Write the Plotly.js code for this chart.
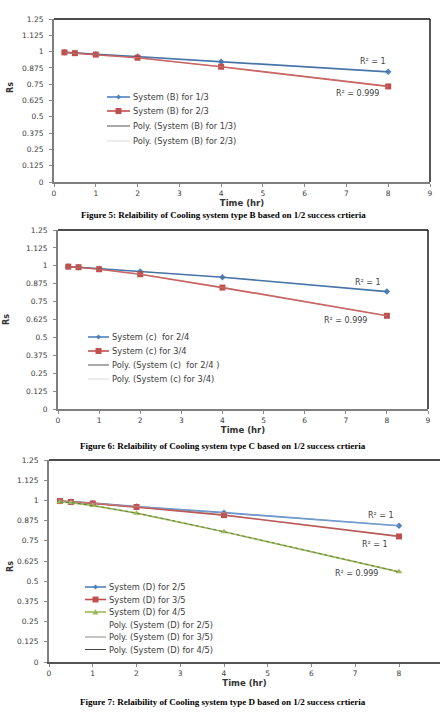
<!DOCTYPE html>
<html>
<head>
<meta charset="utf-8">
<script src="https://cdn.plot.ly/plotly-3.0.1.min.js"></script>
<style>
  html, body { margin: 0; padding: 0; background: #fff; }
  #chart { width: 440px; height: 728px; }
</style>
</head>
<body>
<div id="chart"></div>
<script>
// Operating time (hours) shared by all three systems
const timeHr = [0.25, 0.5, 1, 2, 4, 8];

// System B reliability
const sysB13 = [0.995, 0.99, 0.979, 0.963, 0.922, 0.845];
const sysB23 = [0.994, 0.988, 0.977, 0.953, 0.884, 0.733];
// System C reliability
const sysC24 = [0.995, 0.99, 0.98, 0.96, 0.92, 0.82];
const sysC34 = [0.994, 0.99, 0.976, 0.941, 0.848, 0.651];
// System D reliability
const sysD25 = [0.996, 0.992, 0.983, 0.962, 0.924, 0.843];
const sysD35 = [0.996, 0.99, 0.981, 0.959, 0.909, 0.777];
const sysD45 = [0.99, 0.986, 0.968, 0.921, 0.806, 0.558];

const namesB = ['System (B) for 1/3', 'System (B) for 2/3', 'Poly. (System (B) for 1/3)', 'Poly. (System (B) for 2/3)'];
const namesC = ['System (c)  for 2/4', 'System (c) for 3/4', 'Poly. (System (c)  for 2/4 )', 'Poly. (System (c) for 3/4)'];
const namesD = ['System (D) for 2/5', 'System (D) for 3/5', 'System (D) for 4/5',
                'Poly. (System (D) for 2/5)', 'Poly. (System (D) for 3/5)', 'Poly. (System (D) for 4/5)'];

const r2B = ['R² = 1', 'R² = 0.999'];
const r2C = ['R² = 1', 'R² = 0.999'];
const r2D = ['R² = 1', 'R² = 1', 'R² = 0.999'];

const captions = [
  'Figure 5: Relaibility of Cooling system type B based on 1/2 success crtieria',
  'Figure 6: Relaibility of Cooling system type C based on 1/2 success crtieria',
  'Figure 7: Relaibility of Cooling system type D based on 1/2 success crtieria'
];

const yTickVals = [0, 0.125, 0.25, 0.375, 0.5, 0.625, 0.75, 0.875, 1, 1.125, 1.25];
const yTickText = ['0', '0.125', '0.25', '0.375', '0.5', '0.625', '0.75', '0.875', '1', '1.125', '1.25'];
const xTicks9 = [0, 1, 2, 3, 4, 5, 6, 7, 8, 9];
const xTicks8 = [0, 1, 2, 3, 4, 5, 6, 7, 8];

// ---- page geometry helpers (pixels -> paper fractions) ----
const W = 440, H = 728;
const px = v => v / W;
const py = v => 1 - v / H;

const SANS = 'DejaVu Sans, sans-serif';
const TXT = '#404040';
const BLUE = '#4F81BD', RED = '#C0504D', GREEN = '#9BBB59';

const styles = {
  blue:  { color: BLUE,  symbol: 'diamond',     size: 5 },
  red:   { color: RED,   symbol: 'square',      size: 6 },
  green: { color: GREEN, symbol: 'triangle-up', size: 6 }
};

function dataTrace(ax, y, name, st) {
  return {
    type: 'scatter', mode: 'lines+markers', x: timeHr, y: y, name: name,
    xaxis: 'x' + ax, yaxis: 'y' + ax, showlegend: false,
    line: { color: st.color, width: 1.7 },
    marker: { color: st.color, symbol: st.symbol, size: st.size }
  };
}
function polyTrace(ax, y, name, color, dash, op) {
  return {
    type: 'scatter', mode: 'lines', x: timeHr, y: y, name: name,
    xaxis: 'x' + ax, yaxis: 'y' + ax, showlegend: false,
    line: { color: color, width: 0.7, shape: 'spline', dash: dash || 'solid' },
    opacity: op || 0.35
  };
}

const traces = [
  dataTrace('', sysB13, namesB[0], styles.blue),
  dataTrace('', sysB23, namesB[1], styles.red),
  polyTrace('', sysB13, namesB[2], '#3a3a3a'),
  polyTrace('', sysB23, namesB[3], '#e6c8c8'),

  dataTrace('2', sysC24, namesC[0], styles.blue),
  dataTrace('2', sysC34, namesC[1], styles.red),
  polyTrace('2', sysC24, namesC[2], '#3a3a3a'),
  polyTrace('2', sysC34, namesC[3], '#e6c8c8'),

  dataTrace('3', sysD25, namesD[0], styles.blue),
  dataTrace('3', sysD35, namesD[1], styles.red),
  dataTrace('3', sysD45, namesD[2], styles.green),
  polyTrace('3', sysD25, namesD[3], '#ffffff'),
  polyTrace('3', sysD35, namesD[4], '#8a8a8a'),
  polyTrace('3', sysD45, namesD[5], '#333333', 'dot', 0.7)
];

const tickFont = { family: SANS, size: 7.5, color: TXT };

function xAxis(domain, range, ticks, anchor, lineColor) {
  return {
    domain: domain, range: range, anchor: anchor,
    tickmode: 'array', tickvals: ticks, ticktext: ticks.map(String),
    ticks: 'outside', ticklen: 3, tickcolor: '#8c8c8c', tickwidth: 1,
    showline: true, linecolor: lineColor, linewidth: 2,
    showgrid: false, zeroline: false, tickfont: tickFont,
    ticklabelstandoff: 0,
    title: { text: '<b>Time (hr)</b>', font: { family: SANS, size: 8.5, color: '#333' }, standoff: 3 },
    automargin: false, fixedrange: true
  };
}
function yAxis(domain, anchor) {
  return {
    domain: domain, range: [0, 1.25], anchor: anchor,
    tickmode: 'array', tickvals: yTickVals, ticktext: yTickText,
    ticks: 'outside', ticklen: 3, tickcolor: '#8c8c8c', tickwidth: 1,
    showline: true, linecolor: '#7f7f7f', linewidth: 2,
    showgrid: false, zeroline: false, tickfont: tickFont,
    ticklabelstandoff: 4,
    automargin: false, fixedrange: true
  };
}

// plot rectangles in pixels: [left, right, top, bottom]
const boxB = [54, 430, 19, 182];
const boxC = [58, 428, 230, 409];
const boxD = [49, 440, 460, 662];
const dom = b => ({ x: [px(b[0]), px(b[1])], y: [py(b[3]), py(b[2])] });

const dB = dom(boxB), dC = dom(boxC), dD = dom(boxD);

const shapes = [];
const annotations = [];

// dark frame on top / right edges
function frame(ax, withRight) {
  const xr = (ax === '' ? 'x' : 'x' + ax) + ' domain';
  const yr = (ax === '' ? 'y' : 'y' + ax) + ' domain';
  shapes.push({ type: 'line', xref: xr, yref: yr, x0: 0, x1: 1, y0: 1, y1: 1, line: { color: '#111', width: 1.4 } });
  if (withRight) shapes.push({ type: 'line', xref: xr, yref: yr, x0: 1, x1: 1, y0: 0, y1: 1, line: { color: '#111', width: 1.4 } });
}
frame('', true);
frame('2', true);
frame('3', false);

// legend glyph for one entry
function marker(cx, cy, st) {
  const s = st.size / 2;
  let path;
  if (st.symbol === 'square') {
    path = `M${px(cx - s)},${py(cy - s)} L${px(cx + s)},${py(cy - s)} L${px(cx + s)},${py(cy + s)} L${px(cx - s)},${py(cy + s)} Z`;
  } else if (st.symbol === 'diamond') {
    path = `M${px(cx)},${py(cy - s)} L${px(cx + s)},${py(cy)} L${px(cx)},${py(cy + s)} L${px(cx - s)},${py(cy)} Z`;
  } else {
    path = `M${px(cx)},${py(cy - s)} L${px(cx + s)},${py(cy + s * 0.8)} L${px(cx - s)},${py(cy + s * 0.8)} Z`;
  }
  shapes.push({ type: 'path', xref: 'paper', yref: 'paper', path: path, fillcolor: st.color, line: { width: 0 } });
}
function legend(x0, x1, rows, entries) {
  entries.forEach((e, i) => {
    const yy = rows[i];
    if (e.line) {
      shapes.push({ type: 'line', xref: 'paper', yref: 'paper', x0: px(x0), x1: px(x1), y0: py(yy), y1: py(yy),
        line: { color: e.line, width: e.width || 1.6 } });
    }
    if (e.marker) marker((x0 + x1) / 2, yy, e.marker);
    annotations.push({ xref: 'paper', yref: 'paper', x: px(x1 + 1), y: py(yy), xanchor: 'left', yanchor: 'middle',
      text: e.name, showarrow: false, font: { family: SANS, size: 8.3, color: TXT } });
  });
}

legend(107, 130, [97, 111, 126, 141], [
  { name: namesB[0], line: BLUE, marker: styles.blue },
  { name: namesB[1], line: RED, marker: styles.red },
  { name: namesB[2], line: '#555', width: 1 },
  { name: namesB[3], line: '#d9d9d9', width: 1 }
]);
legend(88, 109, [337, 351, 365, 379], [
  { name: namesC[0], line: BLUE, marker: styles.blue },
  { name: namesC[1], line: RED, marker: styles.red },
  { name: namesC[2], line: '#555', width: 1 },
  { name: namesC[3], line: '#d9d9d9', width: 1 }
]);
legend(85, 106, [587, 599.5, 612, 624.5, 637, 649.5], [
  { name: namesD[0], line: BLUE, marker: styles.blue },
  { name: namesD[1], line: RED, marker: styles.red },
  { name: namesD[2], line: GREEN, marker: styles.green },
  { name: namesD[3] },
  { name: namesD[4], line: '#8a8a8a', width: 1 },
  { name: namesD[5], line: '#444', width: 1 }
]);

// R² labels
function note(text, x, y) {
  annotations.push({ xref: 'paper', yref: 'paper', x: px(x), y: py(y), xanchor: 'center', yanchor: 'middle',
    text: text, showarrow: false, font: { family: SANS, size: 8, color: TXT } });
}
note(r2B[0], 373, 61);
note(r2B[1], 357, 93);
note(r2C[0], 368, 283);
note(r2C[1], 345, 320);
note(r2D[0], 381, 515);
note(r2D[1], 375, 544);
note(r2D[2], 356, 573);

// Rs labels
[[10, 88], [6, 320], [10, 567]].forEach(p => {
  annotations.push({ xref: 'paper', yref: 'paper', x: px(p[0]), y: py(p[1]), xanchor: 'center', yanchor: 'middle',
    text: '<b>Rs</b>', textangle: -90, showarrow: false, font: { family: SANS, size: 8, color: '#333' } });
});

// captions
[[215, captions[0]], [446, captions[1]], [702, captions[2]]].forEach(c => {
  annotations.push({ xref: 'paper', yref: 'paper', x: px(223), y: py(c[0]), xanchor: 'center', yanchor: 'middle',
    text: '<b>' + c[1] + '</b>', showarrow: false,
    font: { family: 'Liberation Serif, Times New Roman, serif', size: 9, color: '#000' } });
});

const layout = {
  width: W, height: H,
  margin: { l: 0, r: 0, t: 0, b: 0 },
  paper_bgcolor: '#fff', plot_bgcolor: '#fff',
  showlegend: false,
  xaxis:  xAxis(dB.x, [0, 9], xTicks9, 'y', '#7f7f7f'),
  yaxis:  yAxis(dB.y, 'x'),
  xaxis2: xAxis(dC.x, [0, 9], xTicks9, 'y2', '#7f7f7f'),
  yaxis2: yAxis(dC.y, 'x2'),
  xaxis3: xAxis(dD.x, [0, (boxD[1] - boxD[0]) / 43.75], xTicks8, 'y3', '#555'),
  yaxis3: yAxis(dD.y, 'x3'),
  shapes: shapes,
  annotations: annotations
};

Plotly.newPlot('chart', traces, layout, { staticPlot: true, displayModeBar: false });
</script>
</body>
</html>
